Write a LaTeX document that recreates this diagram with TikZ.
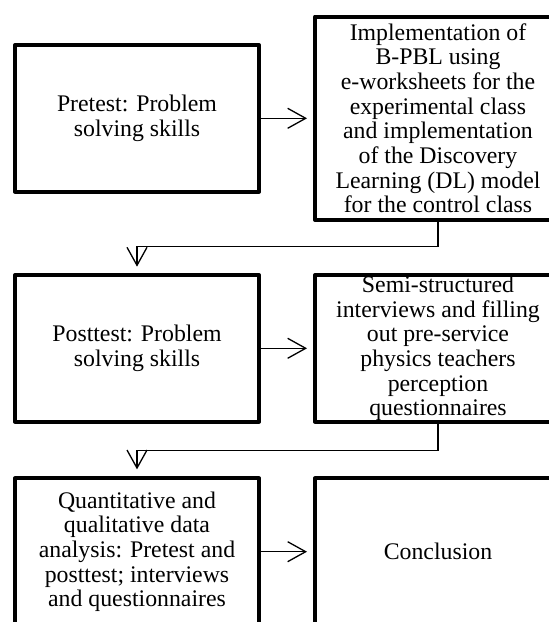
\documentclass[tikz,border=0pt]{standalone}
\usepackage{fontspec}
\setmainfont{Liberation Serif}
\usetikzlibrary{arrows.meta}
\begin{document}
\begin{tikzpicture}[x=1pt,y=-1pt,
  box/.style={draw, line width=4pt, line join=round, rectangle, inner sep=0pt,
    align=center, font=\fontsize{23.8}{24.65}\selectfont},
  lbox/.style={box, minimum width=244pt},
  rbox/.style={box, minimum width=246pt},
  arr/.style={line width=1.3pt, -{Straight Barb[length=18pt,width=20pt,line width=1.3pt]}}
]
\fill[white] (0,0) rectangle (549,622);
\useasboundingbox (0,0) rectangle (549,622);

\node[lbox, minimum height=146.7pt] (b1) at (137,118.3) {Pretest: Problem\\solving skills};
\node[rbox, minimum height=203.3pt] (b2) at (438,118.3) {Implementation of\\B-PBL using\\e-worksheets for the\\experimental class\\and implementation\\of the Discovery\\Learning (DL) model\\for the control class};
\node[lbox, minimum height=146.7pt] (b3) at (137,348.3) {Posttest: Problem\\solving skills};
\node[rbox, minimum height=146.7pt] (b4) at (438,348.3) {Semi-structured\\interviews and filling\\out pre-service\\physics teachers\\perception\\questionnaires};
\node[lbox, minimum height=146.7pt] (b5) at (137,551.7) {Quantitative and\\qualitative data\\analysis: Pretest and\\posttest; interviews\\and questionnaires};
\node[rbox, minimum height=146.7pt] (b6) at (438,551.7) {Conclusion};

\coordinate (k1) at (438,246.7);
\coordinate (k2) at (438,450.7);

\draw[arr, shorten >=6pt] (b1.east) -- (b2.west);
\draw[arr, shorten >=6pt] (b3.east) -- (b4.west);
\draw[arr, shorten >=6pt] (b5.east) -- (b6.west);
\draw[arr, shorten >=6.3pt] (b2.south) -- (k1) -| (b3.north);
\draw[arr, shorten >=7pt] (b4.south) -- (k2) -| (b5.north);
\end{tikzpicture}
\end{document}
